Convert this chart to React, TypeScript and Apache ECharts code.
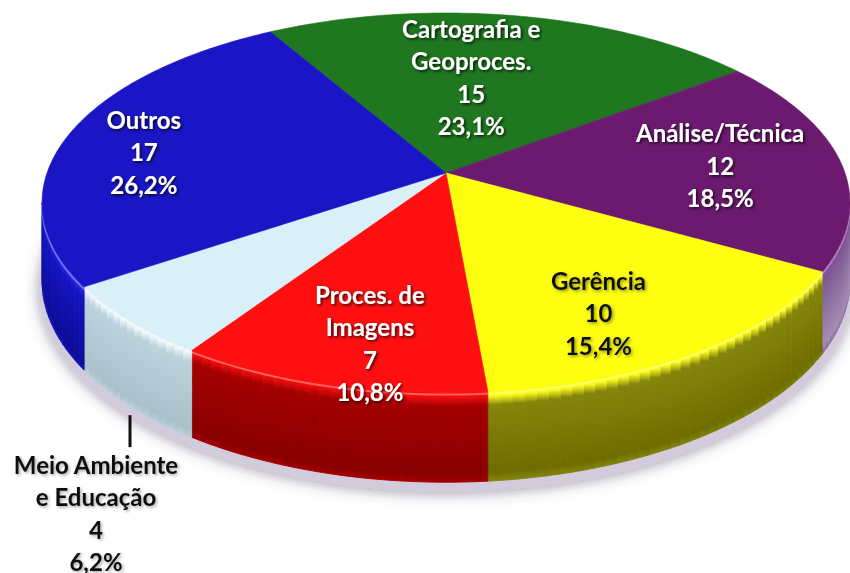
import React, { useEffect, useRef } from "react";
import * as echarts from "echarts";

// ---------- data ----------
const categories = [
  "Cartografia e\nGeoproces.",
  "Análise/Técnica",
  "Gerência",
  "Proces. de\nImagens",
  "Meio Ambiente\ne Educação",
  "Outros",
];
const values = [15, 12, 10, 7, 4, 17];
const percentLabels = ["23,1%", "18,5%", "15,4%", "10,8%", "6,2%", "26,2%"];

// ---------- style / layout ----------
const TOP_COLORS = ["#1f781f", "#6c1a70", "#ffff10", "#fe1010", "#daf0f8", "#1a16c6"];
const WALL_COLORS: string[][] = [
  ["#2a8a2a", "#1a681a", "#0f4a0f"],
  ["#8a4aa0", "#7e5a94", "#a48cb4"],
  ["#fbfb20", "#85850c", "#6e6e00"],
  ["#f00c0c", "#a40000", "#880000"],
  ["#eef8fc", "#bcd3dd", "#a9c1cb"],
  ["#2a2ae8", "#1414c0", "#0c0c98"],
];
const LABEL_DARK = [false, false, true, false, true, false];
const LABEL_OFFSET = [
  [-22, 11],
  [17, 0],
  [-1, 29],
  [-5, 41],
  [0, 0],
  [-55, 5],
];
const OUTSIDE_LIMIT = 0.08;

const CX = 446;
const CY = 173;
const RX = 399;
const RY = 185;
const PERSP = 0.156;
const DEPTH = 76;
const START = -30; // degrees, clockwise from the far side
const VIS0 = (Math.acos(-PERSP) * 180) / Math.PI;
const VIS1 = 360 - VIS0;
const FONT = "bold 24px Lato";
const LINE_H = 32.5;

function proj(deg: number, k = 1, z = 0): number[] {
  const f = (deg * Math.PI) / 180;
  const s = Math.sin(f);
  const u = -Math.cos(f);
  const p = 1 / (1 - PERSP * u * k);
  return [CX + RX * k * s * p, CY + RY * k * u * p + z * p];
}

export default function App() {
  const ref = useRef<HTMLDivElement>(null);
  useEffect(() => {
    if (!ref.current) return;
    const chart = echarts.init(ref.current, undefined, { renderer: "svg" });
    const total = values.reduce((a, b) => a + b, 0);
    const cum: number[] = [0];
    values.forEach((v) => cum.push(cum[cum.length - 1] + v));

    const shadowPts: number[][] = [];
    for (let a = 0; a <= 360; a += 2) shadowPts.push(proj(a, 1.008, DEPTH + 6));

    const renderItem = (params: any, api: any) => {
      const i = params.dataIndex;
      const a0 = START + (cum[i] / total) * 360;
      const a1 = START + (cum[i + 1] / total) * 360;
      const children: any[] = [];

      // top face
      const pts: number[][] = [[CX, CY]];
      for (let a = a0; a < a1; a += 1) pts.push(proj(a));
      pts.push(proj(a1));
      children.push({
        type: "polygon",
        z2: 10,
        shape: { points: pts },
        style: { fill: TOP_COLORS[i], stroke: TOP_COLORS[i], lineWidth: 0.6 },
      });

      // visible outer wall
      const v0 = Math.max(a0, VIS0);
      const v1 = Math.min(a1, VIS1);
      if (v1 > v0) {
        const n = Math.max(1, Math.ceil((v1 - v0) / 1.5));
        const wc = WALL_COLORS[i];
        for (let j = 0; j < n; j++) {
          const b0 = v0 + ((v1 - v0) * j) / n;
          const b1 = v0 + ((v1 - v0) * (j + 1)) / n;
          const grad = new echarts.graphic.LinearGradient(0, 0, 0, 1, [
            { offset: 0, color: TOP_COLORS[i] },
            { offset: 0.06, color: wc[0] },
            { offset: 0.16, color: wc[1] },
            { offset: 0.9, color: wc[2] },
            { offset: 1, color: wc[1] },
          ]);
          children.push({
            type: "polygon",
            z2: 2,
            shape: { points: [proj(b0), proj(b1), proj(b1, 1, DEPTH), proj(b0, 1, DEPTH)] },
            style: { fill: grad, stroke: grad, lineWidth: 0.9 },
          });
        }
        const rim: number[][] = [];
        for (let a = v0; a < v1; a += 1) rim.push(proj(a, 1, 2));
        rim.push(proj(v1, 1, 2));
        children.push({
          type: "polyline",
          z2: 5,
          shape: { points: rim },
          style: { stroke: "rgba(255,255,255,0.35)", lineWidth: 2, fill: null },
        });
      }

      // label
      const mid = (a0 + a1) / 2;
      const dark = LABEL_DARK[i];
      const text = `${categories[i]}\n${values[i]}\n${percentLabels[i]}`;
      const textStyle: any = {
        text,
        font: FONT,
        fill: dark ? "#111" : "#fff",
        align: "center",
        lineHeight: LINE_H,
        textShadowColor: dark ? "rgba(110,110,30,0.75)" : "rgba(0,0,0,0.8)",
        textShadowBlur: 3,
        textShadowOffsetX: 1.5,
        textShadowOffsetY: 1.5,
      };
      if (values[i] / total < OUTSIDE_LIMIT) {
        const b = proj(mid, 1, DEPTH);
        const y1 = b[1] + 9;
        const y2 = y1 + 32;
        children.push({
          type: "line",
          z2: 100,
          shape: { x1: b[0], y1, x2: b[0], y2 },
          style: { stroke: "#111", lineWidth: 3 },
        });
        children.push({
          type: "text",
          z2: 100,
          x: b[0] - 34,
          y: y2 + 1,
          style: { ...textStyle, verticalAlign: "top", textShadowColor: "rgba(0,0,0,0.35)" },
        });
      } else {
        const c = proj(mid, 0.65);
        children.push({
          type: "text",
          z2: 100,
          x: c[0] + LABEL_OFFSET[i][0],
          y: c[1] + LABEL_OFFSET[i][1],
          style: { ...textStyle, verticalAlign: "middle" },
        });
      }
      return { type: "group", children };
    };

    chart.setOption({
      animation: false,
      backgroundColor: "#ffffff",
      graphic: [
        {
          type: "polygon",
          z: 0,
          shape: { points: shadowPts },
          style: {
            fill: "#d2cbdc",
            shadowBlur: 14,
            shadowColor: "rgba(70,60,90,0.5)",
            shadowOffsetY: 2,
          },
        },
      ],
      series: [
        {
          type: "custom",
          coordinateSystem: "none",
          z: 2,
          data: values.map((v, i) => ({ name: categories[i], value: v })),
          renderItem,
        },
      ],
    });
    return () => chart.dispose();
  }, []);
  return (
    <div
      ref={ref}
      style={{ position: "absolute", left: 0, top: 0, width: 850, height: 573 }}
    />
  );
}
